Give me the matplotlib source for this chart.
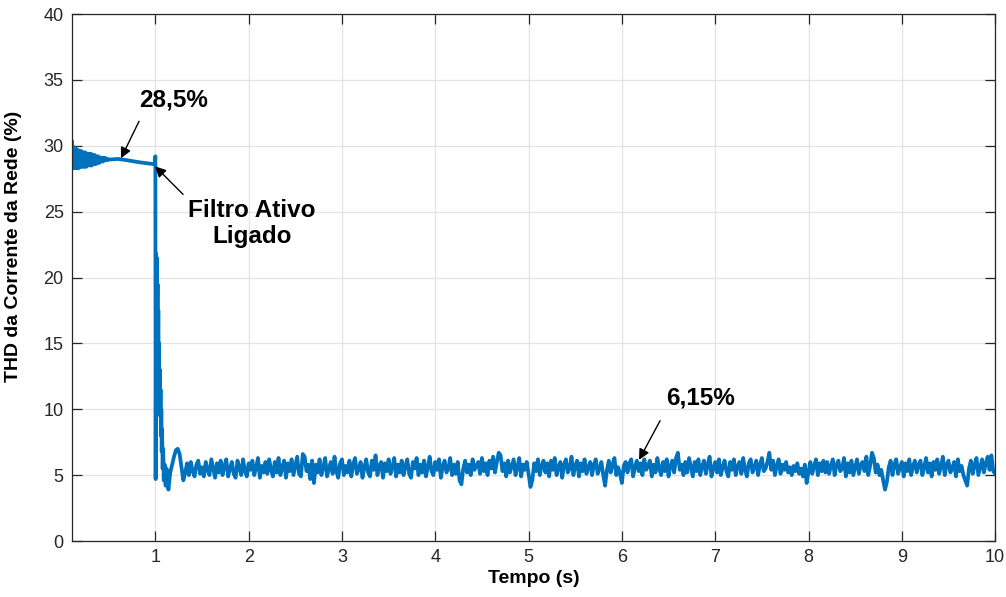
import numpy as np
import matplotlib.pyplot as plt

plt.rcParams['font.family'] = ['Liberation Sans', 'DejaVu Sans']

# THD da corrente da rede antes do filtro ativo (banda oscilante no inicio)
t_ini = np.linspace(0.107, 0.50, 40)
thd_ini = [30.3, 28.3, 29.9, 28.3, 29.8, 28.3, 29.7, 28.3, 29.6, 28.4,
           29.6, 28.4, 29.5, 28.4, 29.5, 28.4, 29.4, 28.5, 29.4, 28.5,
           29.4, 28.5, 29.3, 28.6, 29.3, 28.6, 29.2, 28.7, 29.2, 28.7,
           29.1, 28.8, 29.1, 28.8, 29.1, 28.9, 29.05, 28.9, 29.0, 28.95]

t_pre = [0.6, 0.7, 0.8, 0.9, 0.995]
thd_pre = [29.0, 28.9, 28.78, 28.68, 28.6]

# transitorio ao ligar o filtro em t = 1 s
t_tr = [1.0, 1.003, 1.008, 1.012, 1.016, 1.02, 1.024, 1.028, 1.032, 1.036,
        1.04, 1.044, 1.048, 1.052, 1.056, 1.06, 1.064, 1.068, 1.072, 1.078,
        1.084, 1.09, 1.1, 1.11, 1.12, 1.14, 1.16, 1.18]
thd_tr = [29.2, 4.7, 21.8, 19.0, 21.5, 17.0, 19.5, 15.0, 17.5, 13.0,
          15.0, 11.0, 13.0, 9.5, 11.5, 8.0, 10.0, 6.8, 8.5, 5.5,
          7.0, 4.6, 5.8, 4.2, 5.5, 3.9, 5.2, 5.8]

# regime com filtro ligado, amostras a cada 0,02 s de 1,2 s a 10 s
t_reg = np.linspace(1.2, 10.0, 441)
thd_reg = [
    6.4, 6.9, 7.0, 6.6, 5.6, 4.6, 5.2, 5.9, 5.0, 6.0, 5.3, 4.9, 5.8, 6.1, 5.1, 5.6, 4.9, 6.0, 5.4, 5.0, 6.2, 5.5, 4.8, 5.9, 5.2,
    6.1, 5.0, 5.7, 6.2, 4.9, 5.5, 6.0, 5.1, 4.8, 6.1, 5.6, 5.0, 6.2, 5.3, 4.9, 5.9, 5.4, 6.1, 5.0, 5.6, 6.3, 4.8, 5.7, 5.2, 6.0,
    5.1, 6.2, 5.4, 4.9, 6.0, 5.2, 6.3, 5.0, 5.6, 6.1, 4.8, 5.9, 5.3, 6.2, 5.0, 5.7, 6.4, 5.1, 4.9, 6.6, 6.4, 5.3, 5.8, 4.7, 6.1,
    4.4, 5.8, 5.2, 6.2, 5.0, 5.6, 6.3, 4.9, 5.5, 6.0, 5.1, 6.4, 5.3, 4.8, 5.9, 6.2, 5.0, 5.7, 5.2, 6.1, 4.9, 5.8, 6.3, 5.1, 5.5,
    6.0, 4.8, 5.6, 6.2, 5.2, 4.9, 6.1, 5.4, 6.5, 5.0, 5.7, 6.0, 4.8, 5.9, 5.3, 6.2, 5.1, 5.6, 6.3, 4.9, 5.8, 5.2, 6.1, 5.0, 5.7,
    6.2, 5.1, 4.8, 6.0, 5.5, 6.3, 5.0, 5.8, 5.2, 6.1, 4.9, 5.6, 6.4, 5.3, 5.0, 6.0, 5.4, 6.2, 4.8, 5.7, 6.1, 5.2, 5.5, 6.3, 5.0,
    5.8, 5.1, 6.0, 4.6, 4.3, 5.5, 6.1, 5.2, 5.8, 5.0, 6.2, 5.4, 5.7, 6.0, 5.1, 6.3, 5.3, 5.9, 5.0, 6.1, 5.5, 6.4, 5.2, 6.0, 6.7,
    6.5, 5.3, 5.9, 4.9, 6.1, 5.2, 5.7, 6.2, 5.0, 5.6, 6.3, 4.9, 5.8, 5.4, 6.0, 5.1, 4.1, 4.6, 5.9, 5.3, 6.2, 5.0, 5.7, 6.1, 5.2,
    5.9, 4.9, 6.1, 5.4, 6.3, 5.0, 5.6, 6.0, 4.8, 5.8, 6.2, 5.2, 5.5, 6.4, 5.0, 5.7, 6.1, 4.9, 5.9, 5.3, 6.2, 5.1, 5.6, 6.0, 5.0,
    5.8, 6.2, 5.1, 5.5, 6.0, 5.0, 4.2, 5.4, 6.1, 5.2, 5.8, 6.3, 5.0, 5.6, 5.1, 4.4, 5.7, 6.0, 5.2, 5.9, 6.2, 4.9, 5.6, 6.1, 5.3,
    5.9, 5.0, 6.2, 5.4, 5.7, 6.1, 4.9, 5.8, 5.2, 6.3, 5.5, 5.0, 6.0, 5.3, 6.2, 4.9, 5.7, 6.1, 5.2, 6.3, 6.7, 5.4, 5.8, 5.0, 6.0,
    5.2, 6.3, 5.6, 4.9, 6.0, 5.3, 6.2, 5.0, 5.7, 6.1, 5.1, 5.8, 6.4, 4.9, 5.5, 6.0, 5.2, 6.2, 5.0, 5.6, 6.1, 5.3, 4.9, 6.0, 5.4,
    6.2, 5.0, 5.7, 6.0, 5.1, 6.3, 5.4, 4.9, 5.9, 6.2, 5.2, 5.6, 6.1, 5.0, 5.8, 6.3, 5.3, 5.5, 6.0, 6.7, 5.4, 6.1, 5.0, 5.7, 6.2,
    5.1, 5.8, 5.4, 6.0, 5.2, 5.6, 5.0, 5.7, 5.3, 5.9, 5.1, 5.5, 4.9, 5.8, 4.4, 5.3, 6.0, 5.1, 5.7, 6.2, 5.0, 5.9, 5.3, 6.1, 5.2,
    6.0, 5.1, 5.7, 6.2, 5.0, 5.8, 6.1, 5.3, 5.5, 6.3, 4.9, 5.9, 5.2, 6.1, 5.0, 5.6, 6.2, 5.1, 5.8, 6.0, 5.3, 6.4, 5.0, 5.7, 6.7,
    6.3, 5.2, 5.8, 5.0, 5.4, 4.6, 3.9, 4.5, 5.6, 6.1, 5.0, 5.8, 6.2, 5.1, 5.6, 6.0, 4.9, 5.9, 5.3, 6.2, 5.0, 5.7, 6.1, 5.2, 5.8,
    6.1, 5.0, 5.6, 6.3, 5.2, 5.9, 4.9, 6.0, 5.4, 6.2, 5.1, 5.7, 6.4, 5.0, 5.8, 6.1, 5.2, 5.5, 6.0, 4.9, 6.2, 5.3, 5.7, 5.0, 4.6,
    4.2, 5.5, 6.1, 5.1, 5.8, 6.3, 5.0, 5.6, 6.2, 5.2, 5.9, 6.4, 5.4, 6.5, 5.3, 5.1,
]

t = np.concatenate([t_ini, t_pre, t_tr, t_reg])
thd = np.concatenate([thd_ini, thd_pre, thd_tr, thd_reg])

axis_color = '#262626'

fig = plt.figure(figsize=(10.06, 5.97), dpi=100)
ax = fig.add_axes([0.0716, 0.0938, 0.9176, 0.8827])

ax.plot(t, thd, color='#0072BD', lw=2.7, solid_joinstyle='round')

ax.set_xlim(0.107, 10)
ax.set_ylim(0, 40)
ax.set_xticks(np.arange(1, 11))
ax.set_yticks(np.arange(0, 41, 5))
ax.grid(True, color='#e3e3e3', lw=0.9)
ax.set_axisbelow(True)

for s in ax.spines.values():
    s.set_color(axis_color)
    s.set_linewidth(0.9)
ax.tick_params(direction='in', length=7, width=0.9, colors=axis_color,
               labelsize=13, pad=6, top=True, right=True)

ax.set_xlabel('Tempo (s)', fontsize=14, fontweight='bold')
ax.set_ylabel('THD da Corrente da Rede (%)', fontsize=14, fontweight='bold')
ax.xaxis.set_label_coords(0.5, -0.055)
ax.yaxis.set_label_coords(-0.054, 0.56)

arrow = dict(arrowstyle='-|>', color='k', lw=1.0, mutation_scale=16,
             shrinkA=0, shrinkB=0)
txt = dict(fontsize=17.5, fontweight='bold', ha='center', va='center')

ax.text(1.19, 33.46, '28,5%', **txt)
ax.annotate('', xy=(0.632, 29.05), xytext=(0.825, 31.86), arrowprops=arrow)

ax.text(2.036, 24.1, 'Filtro Ativo\nLigado', multialignment='center', **txt)
ax.annotate('', xy=(0.997, 28.44), xytext=(1.297, 26.31), arrowprops=arrow)

ax.text(6.838, 10.84, '6,15%', **txt)
ax.annotate('', xy=(6.184, 6.16), xytext=(6.409, 9.13), arrowprops=arrow)

fig.savefig('out.png', dpi=100)
